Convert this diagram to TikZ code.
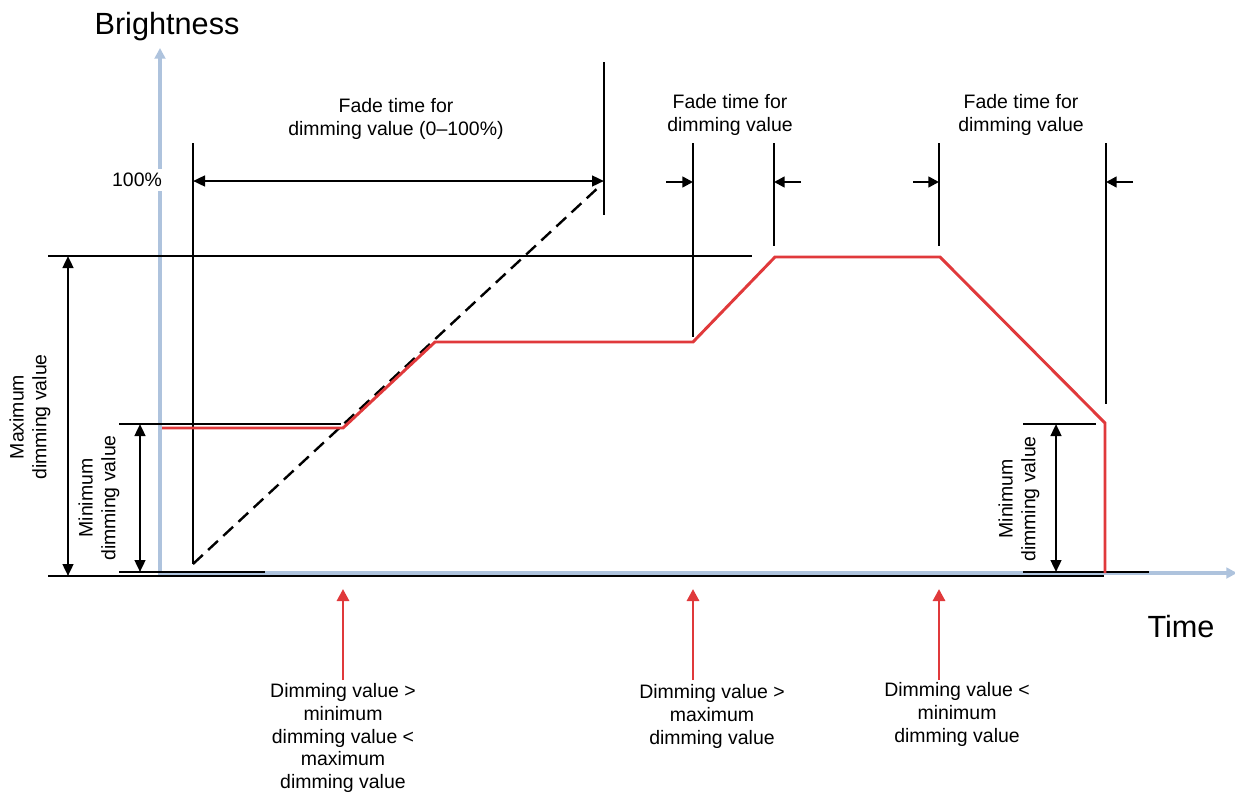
\documentclass[tikz,border=0pt]{standalone}
\usepackage{fontspec}
\setmainfont{Liberation Sans}
\usetikzlibrary{arrows.meta}
\definecolor{axisblue}{HTML}{AEC3DD}
\definecolor{curvered}{HTML}{E0393B}
\begin{document}
\begin{tikzpicture}[x=0.75pt,y=-0.75pt,
  guide/.style={draw=black, line width=1.8pt},
  dimarrow/.style={guide, {Triangle[length=9pt,width=8pt]}-{Triangle[length=9pt,width=8pt]}},
  pointer/.style={guide, -{Triangle[length=8pt,width=8pt]}},
  eventarrow/.style={draw=curvered, line width=2.2pt, -{Triangle[length=9pt,width=9pt]}},
  axis/.style={draw=axisblue, line width=2.4pt, -{Triangle[length=8pt,width=8pt]}},
  lbl/.style={font=\fontsize{14.6}{17}\selectfont, align=center, inner sep=1pt},
  biglbl/.style={font=\fontsize{23}{26}\selectfont, inner sep=0pt},
]
\useasboundingbox (0,0) rectangle (1235,793);

% axes
\coordinate (origin) at (160,576);
\coordinate (ytop) at (160,48);
\coordinate (xend) at (1237,573);
\draw[axis] (origin) -- (ytop);
\draw[axis] (160,573) -- (xend);
\node[biglbl] (ylabel) at (167,27) {Brightness};
\node[biglbl] (xlabel) at (1181,627) {Time};
\node[lbl, fill=white, inner sep=3pt] (full) at (137,180) {100\%};

% reference levels
\coordinate (maxL) at (48,256);  \coordinate (maxR) at (752,256);
\coordinate (baseL) at (48,576); \coordinate (baseR) at (1104,576);
\coordinate (minL) at (119,424); \coordinate (minR) at (341,424);
\coordinate (zeroL) at (119,572); \coordinate (zeroR) at (265,572);
\draw[guide] (maxL) -- (maxR);
\draw[guide] (baseL) -- (baseR);
\draw[guide] (minL) -- (minR);
\draw[guide] (zeroL) -- (zeroR);

% right-hand minimum level
\coordinate (minL2) at (1023,424); \coordinate (minR2) at (1096,424);
\coordinate (zeroL2) at (1023,572); \coordinate (zeroR2) at (1149,572);
\draw[guide] (minL2) -- (minR2);
\draw[guide] (zeroL2) -- (zeroR2);

% dimension arrows for the levels
\draw[dimarrow] (68,256) -- (68,576);
\draw[dimarrow] (140,424) -- (140,572);
\draw[dimarrow] (1056,424) -- (1056,572);
\node[lbl, rotate=90] (maxtxt) at (30,417) {Maximum\\dimming value};
\node[lbl, rotate=90] (mintxt) at (99,498) {Minimum\\dimming value};
\node[lbl, rotate=90] (mintxt2) at (1019,499) {Minimum\\dimming value};

% fade time 0-100 %
\coordinate (fadeA) at (193,143); \coordinate (fadeAb) at (193,564);
\coordinate (fadeB) at (604,62);  \coordinate (fadeBb) at (604,215);
\draw[guide] (fadeA) -- (fadeAb);
\draw[guide] (fadeB) -- (fadeBb);
\draw[dimarrow] (193,181) -- (604,181);
\draw[black, line width=1.8pt, dash pattern=on 10pt off 5.5pt] (fadeAb) -- (601,185);
\node[lbl] (fade1) at (396,119) {Fade time for\\dimming value (0--100\%)};

% fade time markers
\coordinate (t1) at (693,143); \coordinate (t1b) at (693,337);
\coordinate (t2) at (774,143); \coordinate (t2b) at (774,246);
\coordinate (t3) at (939,143); \coordinate (t3b) at (939,246);
\coordinate (t4) at (1106,143); \coordinate (t4b) at (1106,404);
\foreach \a/\b in {t1/t1b,t2/t2b,t3/t3b,t4/t4b} \draw[guide] (\a) -- (\b);
\draw[pointer] (666,182) -- (693,182);
\draw[pointer] (801,182) -- (774,182);
\draw[pointer] (913,182) -- (939,182);
\draw[pointer] (1133,182) -- (1106,182);
\node[lbl] (fade2) at (730,115) {Fade time for\\dimming value};
\node[lbl] (fade3) at (1021,115) {Fade time for\\dimming value};

% brightness curve
\draw[curvered, line width=2.2pt, line join=miter]
  (162,428) -- (343,428) -- (435,342) -- (693,342) -- (775,257)
  -- (940,257) -- (1105,423) -- (1105,573);

% events
\coordinate (e1) at (343,589); \coordinate (e1t) at (343,680);
\coordinate (e2) at (693,589); \coordinate (e2t) at (693,680);
\coordinate (e3) at (939,589); \coordinate (e3t) at (939,680);
\draw[eventarrow] (e1t) -- (e1);
\draw[eventarrow] (e2t) -- (e2);
\draw[eventarrow] (e3t) -- (e3);
\node[lbl, anchor=north] (ev1) at (343,682) {Dimming value \textgreater\\minimum\\dimming value \textless\\maximum\\dimming value};
\node[lbl, anchor=north] (ev2) at (712,683) {Dimming value \textgreater\\maximum\\dimming value};
\node[lbl, anchor=north] (ev3) at (957,681) {Dimming value \textless\\minimum\\dimming value};
\end{tikzpicture}
\end{document}
